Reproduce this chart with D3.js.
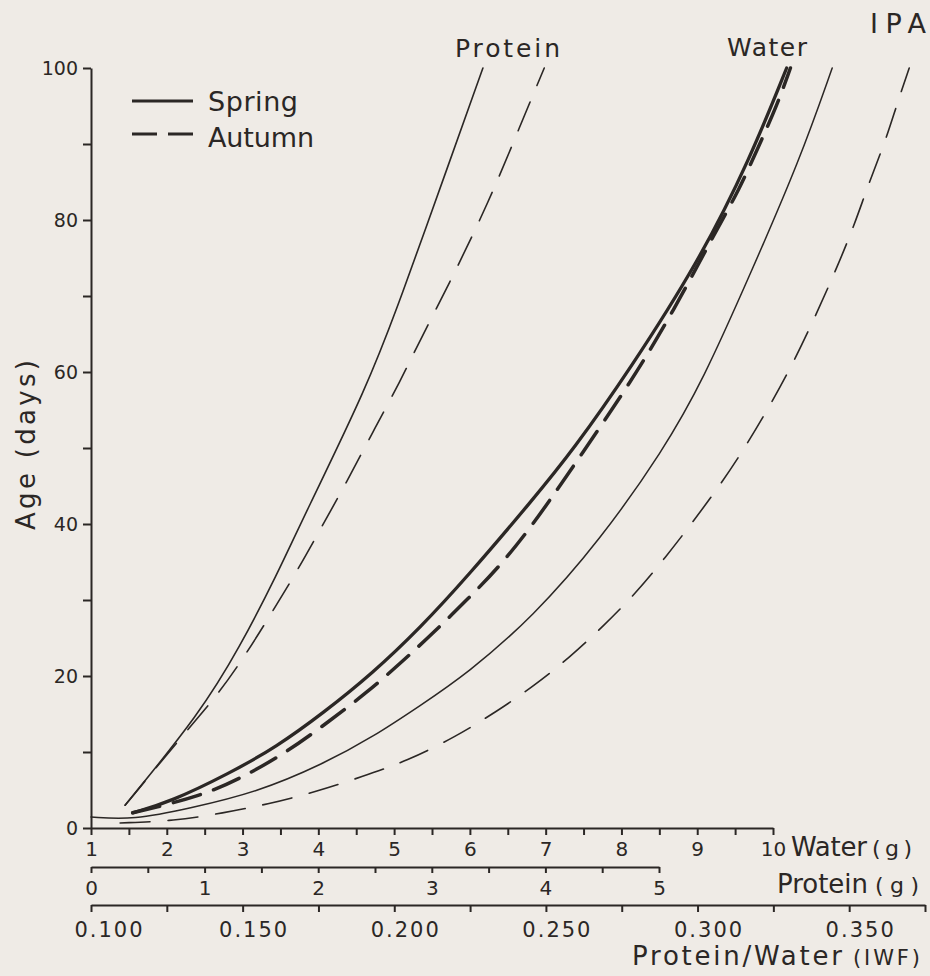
<!DOCTYPE html>
<html>
<head>
<meta charset="utf-8">
<script src="https://cdn.jsdelivr.net/npm/d3@7"></script>
<style>
  body { margin: 0; background: #efebe6; }
  svg { display: block; }
  text { font-family: "DejaVu Sans", sans-serif; fill: #2b2725; }
</style>
</head>
<body>
<div id="chart"></div>
<script>
// values, pairs are [x value, age in days]
const ageTicks = [0, 20, 40, 60, 80, 100];
const waterTicks = [1, 2, 3, 4, 5, 6, 7, 8, 9, 10];
const proteinTicks = [0, 1, 2, 3, 4, 5];
const ratioTicks = ['0.100', '0.150', '0.200', '0.250', '0.300', '0.350'];

// protein (g)
const proteinSpring = [[0.30, 3.0], [0.96, 15.1], [1.31, 23.8], [1.64, 33.4], [1.88, 41.2],
    [2.43, 58.0], [2.72, 69.5], [2.88, 76.1], [3.45, 100]];
const proteinAutumn = [[0.30, 3.0], [0.87, 13.3], [1.13, 17.8], [1.37, 23.0], [1.59, 28.3],
    [1.81, 33.7], [2.03, 39.6], [2.25, 45.5], [2.48, 52.1], [2.72, 58.7], [2.91, 64.6],
    [3.13, 70.9], [3.51, 82.6], [3.78, 92.5], [3.99, 100]];

// water (g)
const waterSpring = [[1.55, 2.0], [2.04, 3.4], [2.83, 7.2], [3.45, 10.7], [4.06, 15.1],
    [4.72, 20.4], [5.34, 26.3], [5.96, 33.0], [6.83, 43.2], [7.36, 49.7], [8.11, 60.3],
    [9.03, 74.7], [9.69, 87.9], [10.18, 100]];
const waterAutumn = [[1.55, 2.0], [2.46, 4.2], [3.03, 6.8], [3.60, 10.1], [4.11, 13.8],
    [4.64, 17.8], [5.12, 22.0], [5.53, 25.8], [5.99, 30.3], [6.38, 34.3], [6.77, 39.1],
    [7.13, 44.2], [7.42, 48.4], [8.14, 58.9], [8.68, 67.9], [9.26, 78.8], [9.55, 83.9],
    [9.81, 89.7], [10.05, 95.0], [10.23, 100]];

// protein / water (IPA)
const ipaSpring = [[0.1000, 1.45], [0.1139, 1.05], [0.1327, 2.6], [0.1547, 4.7], [0.1765, 8.4],
    [0.1930, 12.0], [0.2085, 16.1], [0.2240, 20.3], [0.2458, 27.8], [0.2679, 37.9],
    [0.2887, 49.7], [0.3018, 58.9], [0.3173, 72.8], [0.3338, 88.0], [0.3444, 100]];
const ipaAutumn = [[0.1096, 0.66], [0.1274, 0.92], [0.1435, 1.97], [0.1587, 3.16], [0.1739, 4.74],
    [0.1891, 6.71], [0.2042, 8.82], [0.2207, 12.1], [0.2336, 15.3], [0.2461, 18.7],
    [0.2580, 22.5], [0.2685, 26.4], [0.2797, 30.9], [0.2896, 35.7], [0.2985, 40.3],
    [0.3081, 45.5], [0.3157, 50.1], [0.3236, 55.4], [0.3312, 60.9], [0.3394, 67.8],
    [0.3460, 73.8], [0.3516, 79.2], [0.3566, 85.0], [0.3619, 90.3], [0.3658, 95.3], [0.3698, 100]];

const width = 930;
const height = 976;
const ink = '#2b2725';

const svg = d3.select('#chart').append('svg')
    .attr('width', width)
    .attr('height', height);

svg.append('rect').attr('width', width).attr('height', height).attr('fill', '#efebe6');

const y = d3.scaleLinear().domain([0, 100]).range([828, 68]);
const xWater = d3.scaleLinear().domain([1, 10]).range([91, 773]);
const xProtein = d3.scaleLinear().domain([0, 5]).range([91, 659]);
const xRatio = d3.scaleLinear().domain([0.1, 0.375]).range([91, 925]);

function styleAxis(g, size) {
    g.attr('font-family', null);
    g.select('.domain').attr('stroke', ink).attr('stroke-width', 2);
    g.selectAll('.tick line').attr('stroke', ink).attr('stroke-width', 2);
    g.selectAll('.tick text').attr('font-size', size);
}

// age axis
svg.append('g')
    .attr('transform', 'translate(91,0)')
    .call(d3.axisLeft(y)
        .tickValues(d3.range(0, 101, 10))
        .tickFormat(d => ageTicks.includes(d) ? d : '')
        .tickSize(8).tickSizeOuter(0).tickPadding(5))
    .call(styleAxis, 19);

// water axis
svg.append('g')
    .attr('transform', 'translate(0,828)')
    .call(d3.axisBottom(xWater)
        .tickValues(d3.range(1, 10.01, 0.5))
        .tickFormat(d => waterTicks.includes(d) ? d : '')
        .tickSize(7).tickSizeOuter(0).tickPadding(7))
    .call(styleAxis, 20);

// protein axis
svg.append('g')
    .attr('transform', 'translate(0,867)')
    .call(d3.axisBottom(xProtein)
        .tickValues(d3.range(0, 5.01, 0.5))
        .tickFormat(d => proteinTicks.includes(d) ? d : '')
        .tickSize(6).tickSizeOuter(0).tickPadding(8))
    .call(styleAxis, 20);

// protein/water axis
const ratioAxis = svg.append('g')
    .attr('transform', 'translate(0,905)')
    .call(d3.axisBottom(xRatio)
        .tickValues(d3.range(0, 12).map(i => 0.1 + i * 0.025))
        .tickFormat(d => ratioTicks.includes(d.toFixed(3)) ? d.toFixed(3) : '')
        .tickSize(7).tickSizeOuter(0).tickPadding(10))
    .call(styleAxis, 21);
ratioAxis.selectAll('.tick text')
    .attr('dx', (d, i) => i === 0 ? 18 : 11)
    .style('letter-spacing', '2px');

// curves
const series = [
    {data: proteinSpring, x: xProtein, w: 1.6, dash: null},
    {data: proteinAutumn, x: xProtein, w: 1.6, dash: '31,18'},
    {data: waterSpring, x: xWater, w: 3.3, dash: null},
    {data: waterAutumn, x: xWater, w: 3.5, dash: '28,14'},
    {data: ipaSpring, x: xRatio, w: 1.5, dash: null},
    {data: ipaAutumn, x: xRatio, w: 1.6, dash: '30,18'},
];

series.forEach(s => {
    const line = d3.line()
        .x(d => s.x(d[0]))
        .y(d => y(d[1]))
        .curve(d3.curveBasis);
    svg.append('path')
        .datum(s.data)
        .attr('d', line)
        .attr('fill', 'none')
        .attr('stroke', ink)
        .attr('stroke-width', s.w)
        .attr('stroke-dasharray', s.dash)
        .attr('stroke-linecap', 'round');
});

// legend
svg.append('line').attr('x1', 132).attr('x2', 193).attr('y1', 101).attr('y2', 101)
    .attr('stroke', ink).attr('stroke-width', 3);
svg.append('line').attr('x1', 132).attr('x2', 193).attr('y1', 134).attr('y2', 134)
    .attr('stroke', ink).attr('stroke-width', 3).attr('stroke-dasharray', '25,11');

function label(txt, x, yy, size, len) {
    const t = svg.append('text').attr('x', x).attr('y', yy).attr('font-size', size).text(txt);
    if (len) t.attr('textLength', len).attr('lengthAdjust', 'spacing');
    return t;
}

label('Spring', 208, 111, 27, 90);
label('Autumn', 208, 147, 27, 106);

// curve names
label('Protein', 455, 57, 25, 105);
label('Water', 727, 56, 25, 80);
label('IPA', 870, 33, 27, 56);

// axis titles
svg.append('text')
    .attr('transform', 'translate(35,445) rotate(-90)')
    .attr('text-anchor', 'middle')
    .attr('font-size', 26)
    .attr('textLength', 170)
    .attr('lengthAdjust', 'spacing')
    .text('Age (days)');

label('Water', 791, 856, 26, 76);
label('(g)', 872, 856, 22, 40);
label('Protein', 777, 893, 26, 91);
label('(g)', 875, 893, 22, 44);
label('Protein/Water', 632, 965, 26, 210);
label('(IWF)', 853, 965, 21, 67);
</script>
</body>
</html>
